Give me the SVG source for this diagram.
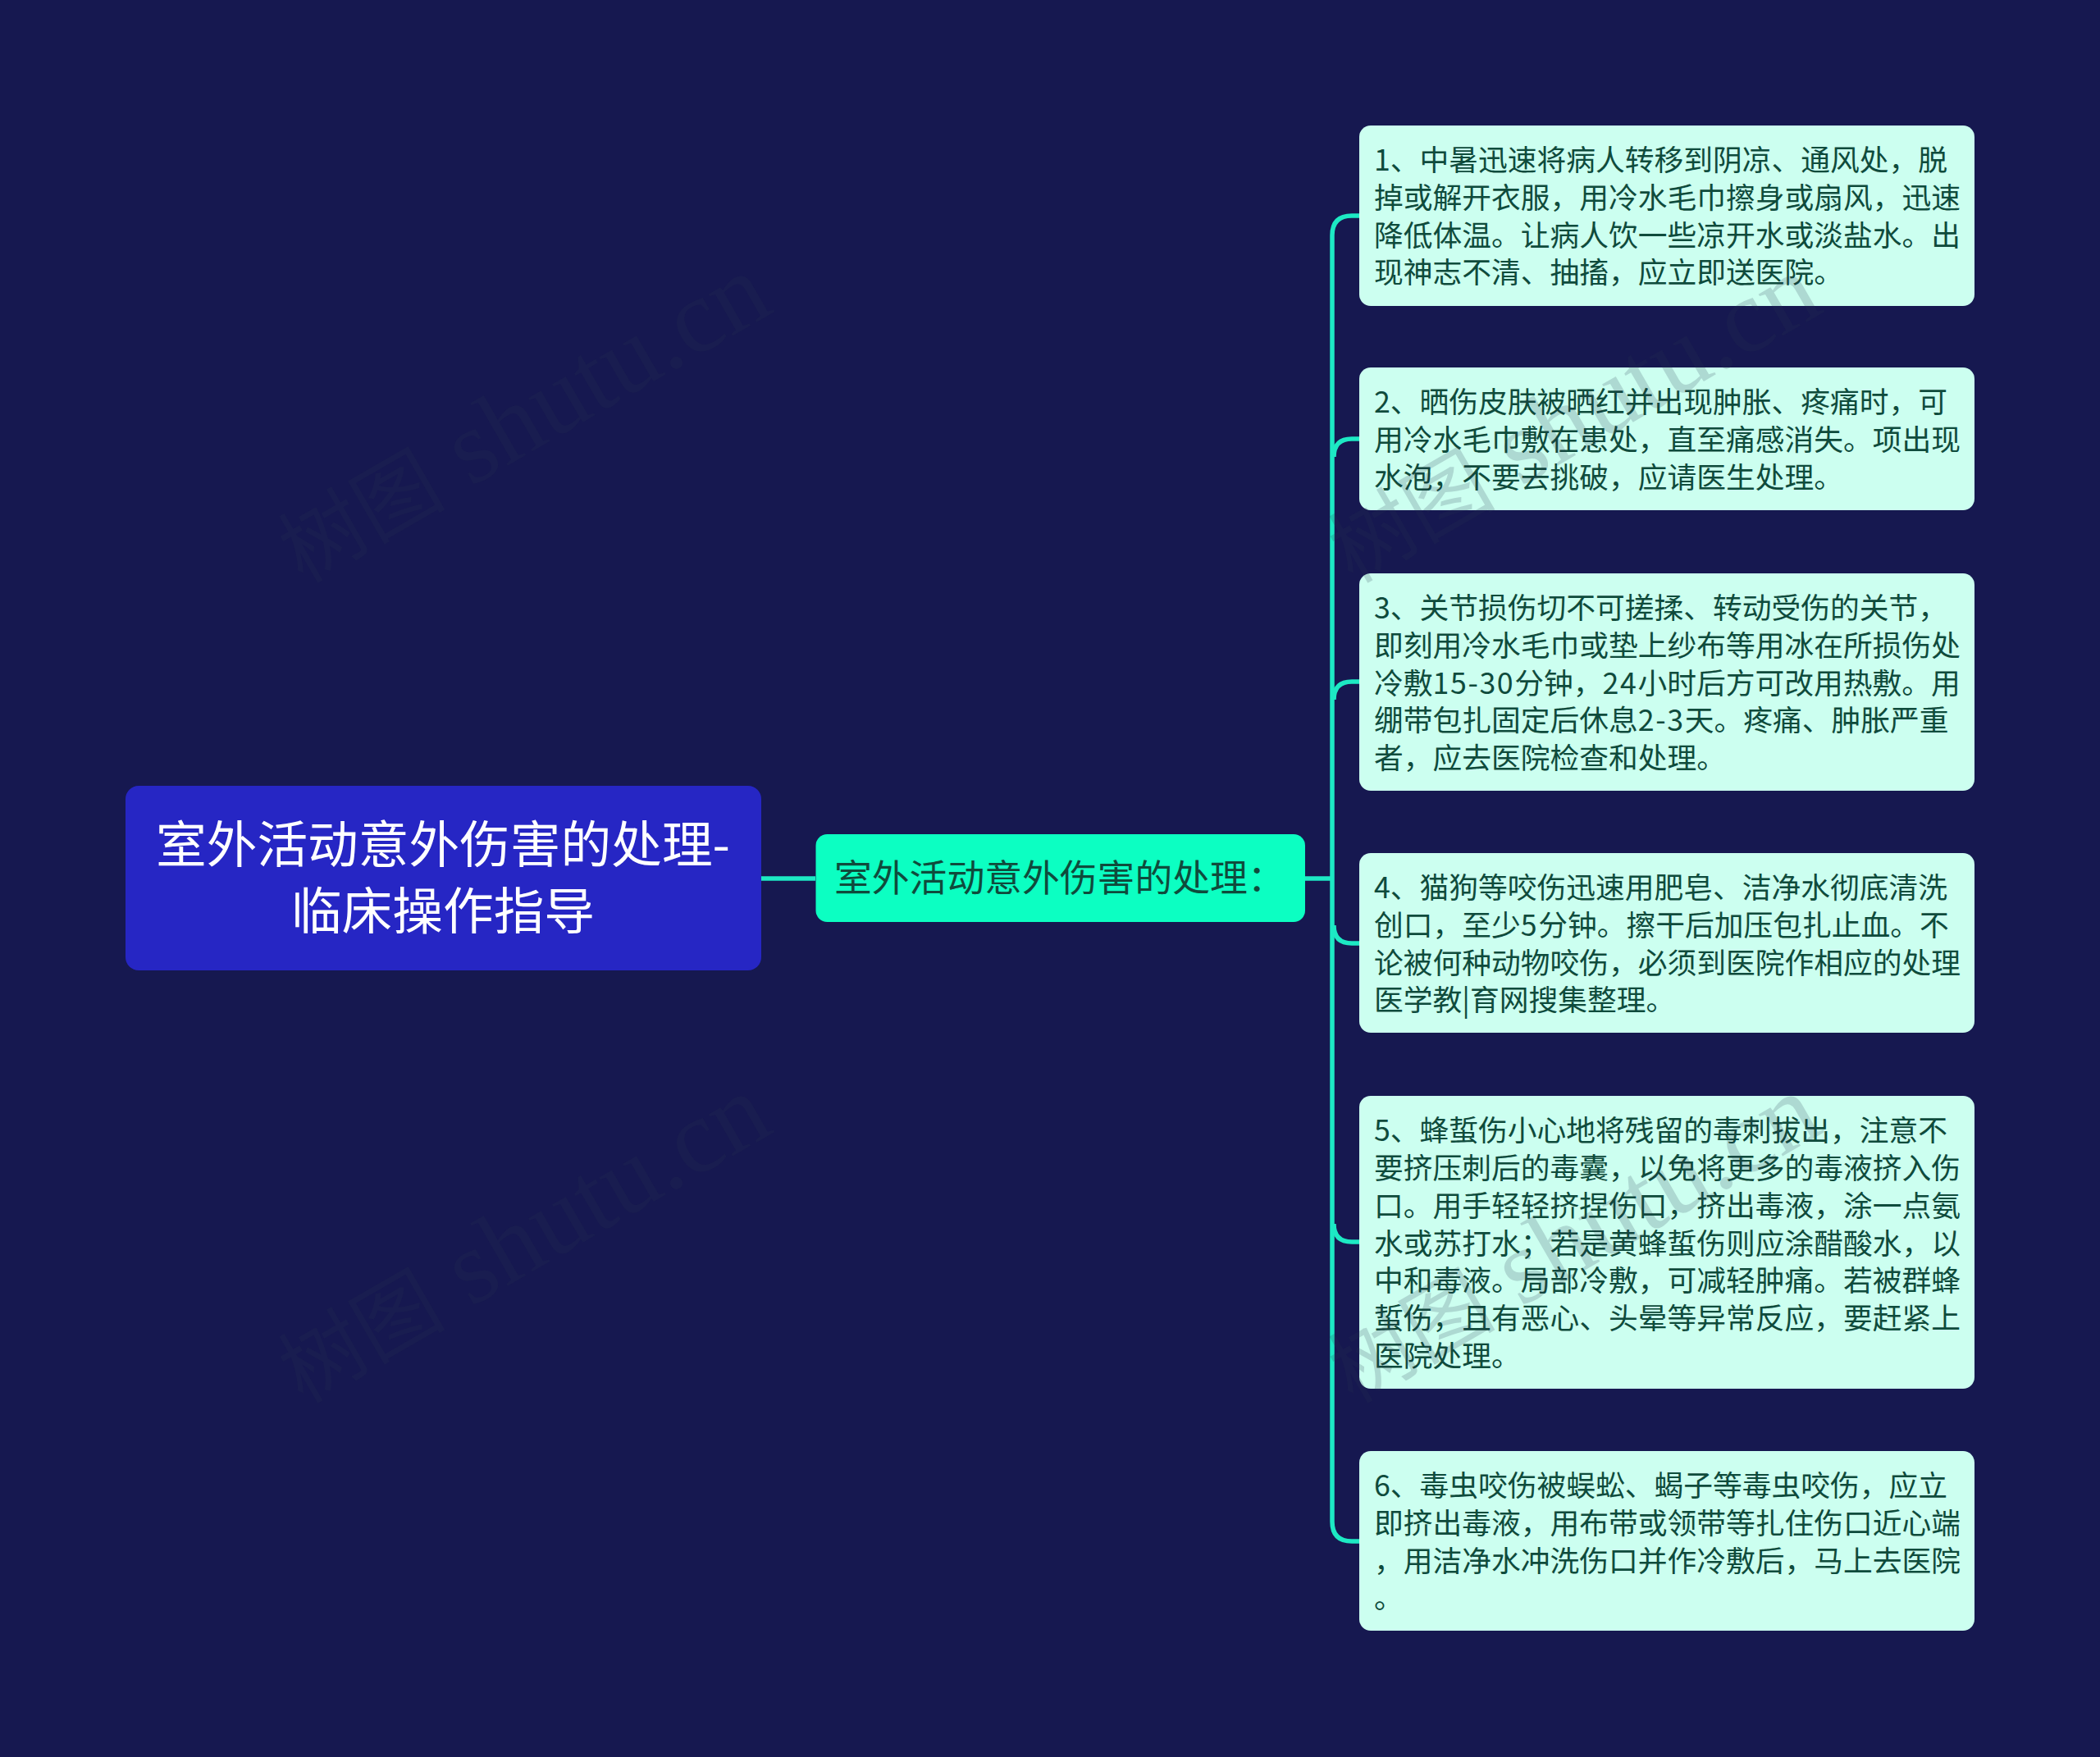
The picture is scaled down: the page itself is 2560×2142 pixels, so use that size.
<svg xmlns="http://www.w3.org/2000/svg" width="2560" height="2142" viewBox="0 0 2560 2142">
<style>
text{font-family:"Noto Sans CJK SC","Noto Sans",sans-serif}
.leaf rect{fill:#ccfff0}
.leaf text{fill:#0f4b3c;font-size:35.75px;font-weight:400}
.d{letter-spacing:1.6px}
.conn{fill:none;stroke:#1de9c4;stroke-width:5.5}
.wm{font-family:"Liberation Serif","Noto Sans CJK SC",serif;font-size:128px;fill:#2c3450;fill-opacity:.19}
.wm .c{font-family:"Noto Sans CJK SC",serif;font-size:102px;font-weight:400}
</style>
<rect width="2560" height="2142" fill="#161850"/>
<g id="connectors" class="connectors">
<path class="conn" d="M928 1071H994"/>
<path class="conn" d="M1591 1071H1624"/>
<path class="conn" d="M1657 263H1648Q1624 263 1624 287V1855Q1624 1879 1648 1879H1657"/>
<path class="conn" d="M1657 535H1648Q1626 535 1626 557"/>
<path class="conn" d="M1657 831H1648Q1626 831 1626 853"/>
<path class="conn" d="M1657 1150H1648Q1626 1150 1626 1128"/>
<path class="conn" d="M1657 1514H1648Q1626 1514 1626 1492"/>
</g>
<g id="root"><rect x="153" y="958" width="775" height="225" rx="16" fill="#2626c4"/>
<text x="540" y="1052" text-anchor="middle" font-size="61.7" font-weight="400" fill="#fff">室外活动意外伤害的处理-</text>
<text x="540" y="1133" text-anchor="middle" font-size="61.7" font-weight="400" fill="#fff">临床操作指导</text></g>
<g id="mid"><rect x="994.5" y="1017" width="596.5" height="107" rx="14" fill="#0cffc2"/>
<text x="1017" y="1087" font-size="45.8" font-weight="400" fill="#0f4b3c">室外活动意外伤害的处理：</text></g>
<g id="n1" class="leaf"><rect x="1657" y="153" width="750" height="220" rx="14"/>
<text x="1675" y="208">1、中暑迅速将病人转移到阴凉、通风处，脱</text>
<text x="1675" y="254">掉或解开衣服，用冷水毛巾擦身或扇风，迅速</text>
<text x="1675" y="300">降低体温。让病人饮一些凉开水或淡盐水。出</text>
<text x="1675" y="345">现神志不清、抽搐，应立即送医院。</text></g>
<g id="n2" class="leaf"><rect x="1657" y="448" width="750" height="174" rx="14"/>
<text x="1675" y="503">2、晒伤皮肤被晒红并出现肿胀、疼痛时，可</text>
<text x="1675" y="549">用冷水毛巾敷在患处，直至痛感消失。项出现</text>
<text x="1675" y="595">水泡，不要去挑破，应请医生处理。</text></g>
<g id="n3" class="leaf"><rect x="1657" y="699" width="750" height="265" rx="14"/>
<text x="1675" y="754">3、关节损伤切不可搓揉、转动受伤的关节，</text>
<text x="1675" y="800">即刻用冷水毛巾或垫上纱布等用冰在所损伤处</text>
<text x="1675" y="846">冷敷<tspan class="d">15-30</tspan>分钟，<tspan class="d">24</tspan>小时后方可改用热敷。用</text>
<text x="1675" y="891">绷带包扎固定后休息<tspan class="d">2-3</tspan>天。疼痛、肿胀严重</text>
<text x="1675" y="937">者，应去医院检查和处理。</text></g>
<g id="n4" class="leaf"><rect x="1657" y="1040" width="750" height="219" rx="14"/>
<text x="1675" y="1095">4、猫狗等咬伤迅速用肥皂、洁净水彻底清洗</text>
<text x="1675" y="1141">创口，至少<tspan class="d">5</tspan>分钟。擦干后加压包扎止血。不</text>
<text x="1675" y="1187">论被何种动物咬伤，必须到医院作相应的处理</text>
<text x="1675" y="1232">医学教|育网搜集整理。</text></g>
<g id="n5" class="leaf"><rect x="1657" y="1336" width="750" height="357" rx="14"/>
<text x="1675" y="1391">5、蜂蜇伤小心地将残留的毒刺拔出，注意不</text>
<text x="1675" y="1437">要挤压刺后的毒囊，以免将更多的毒液挤入伤</text>
<text x="1675" y="1483">口。用手轻轻挤捏伤口，挤出毒液，涂一点氨</text>
<text x="1675" y="1529">水或苏打水；若是黄蜂蜇伤则应涂醋酸水，以</text>
<text x="1675" y="1574">中和毒液。局部冷敷，可减轻肿痛。若被群蜂</text>
<text x="1675" y="1620">蜇伤，且有恶心、头晕等异常反应，要赶紧上</text>
<text x="1675" y="1666">医院处理。</text></g>
<g id="n6" class="leaf"><rect x="1657" y="1769" width="750" height="219" rx="14"/>
<text x="1675" y="1824">6、毒虫咬伤被蜈蚣、蝎子等毒虫咬伤，应立</text>
<text x="1675" y="1870">即挤出毒液，用布带或领带等扎住伤口近心端</text>
<text x="1675" y="1916">，用洁净水冲洗伤口并作冷敷后，马上去医院</text>
<text x="1675" y="1961">。</text></g>
<g id="watermarks">
<text class="wm" transform="translate(369 712) rotate(-30)"><tspan class="c">树图</tspan> shutu.cn</text>
<text class="wm" transform="translate(1649 712) rotate(-30)"><tspan class="c">树图</tspan> shutu.cn</text>
<text class="wm" transform="translate(369 1712) rotate(-30)"><tspan class="c">树图</tspan> shutu.cn</text>
<text class="wm" transform="translate(1649 1712) rotate(-30)"><tspan class="c">树图</tspan> shutu.cn</text>
</g>
</svg>
